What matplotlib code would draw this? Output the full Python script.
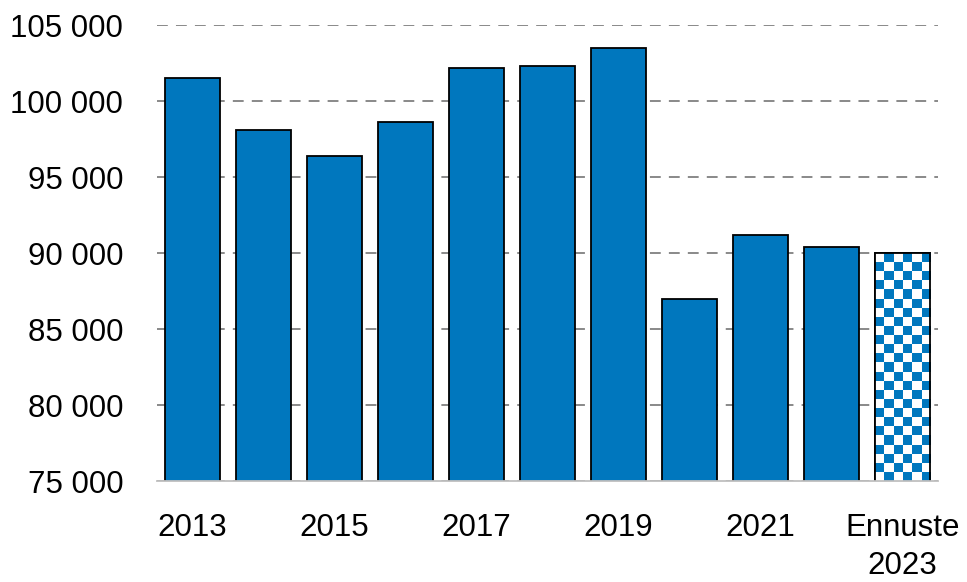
import numpy as np
import matplotlib
matplotlib.use('Agg')
import matplotlib.pyplot as plt
from matplotlib.colors import ListedColormap

years = ['2013', '2014', '2015', '2016', '2017', '2018', '2019',
         '2020', '2021', '2022', 'Ennuste\n2023']
values = [101500, 98100, 96400, 98600, 102200, 102300, 103500,
          86950, 91200, 90400, 90000]
tick_labels = ['2013', '', '2015', '', '2017', '', '2019', '', '2021', '',
               'Ennuste\n2023']

blue = '#0077BE'
ymin = 75000
plt.rcParams['font.family'] = ['Liberation Sans', 'DejaVu Sans']

fig = plt.figure(figsize=(9.67, 5.82), dpi=100)
ax = fig.add_axes([0.162, 0.1735, 0.808, 0.7835])

x = np.arange(len(years))
bars = ax.bar(x, values, width=0.775, color=blue, edgecolor='black',
              linewidth=1.3, zorder=3)

# forecast bar: checkerboard fill clipped to the bar
fc = bars[-1]
fc.set_facecolor('white')
bx, bw = fc.get_x(), fc.get_width()
nx, ny = 6, 25
checker = np.indices((ny, nx)).sum(axis=0) % 2
im = ax.imshow(checker, cmap=ListedColormap(['white', blue]),
               extent=(bx, bx + bw, ymin, fc.get_height()),
               aspect='auto', interpolation='nearest', zorder=3.5)
im.set_clip_path(fc)
ax.bar(x[-1], values[-1], width=0.775, facecolor='none', edgecolor='black',
       linewidth=1.3, zorder=4)

ax.set_xlim(-0.5, len(years) - 0.5)
ax.set_ylim(ymin, 105000)
ax.set_yticks(np.arange(ymin, 105001, 5000))
ax.yaxis.set_major_formatter(
    matplotlib.ticker.FuncFormatter(lambda v, _: f'{int(v):,}'.replace(',', ' ')))
ax.set_xticks(x)
ax.set_xticklabels(tick_labels, linespacing=1.35)

ax.tick_params(axis='y', length=0, pad=24, labelsize=22.5)
ax.tick_params(axis='x', length=0, pad=23, labelsize=22.5)
ax.grid(True, axis='y', color='#808080', linestyle=(0, (6, 4.5)),
        linewidth=1.3, zorder=0)
for s in ['top', 'right', 'left']:
    ax.spines[s].set_visible(False)
ax.spines['bottom'].set_color('#bfbfbf')
ax.spines['bottom'].set_linewidth(1.3)
ax.spines['bottom'].set_zorder(5)

plt.savefig('out.png', dpi=100)
